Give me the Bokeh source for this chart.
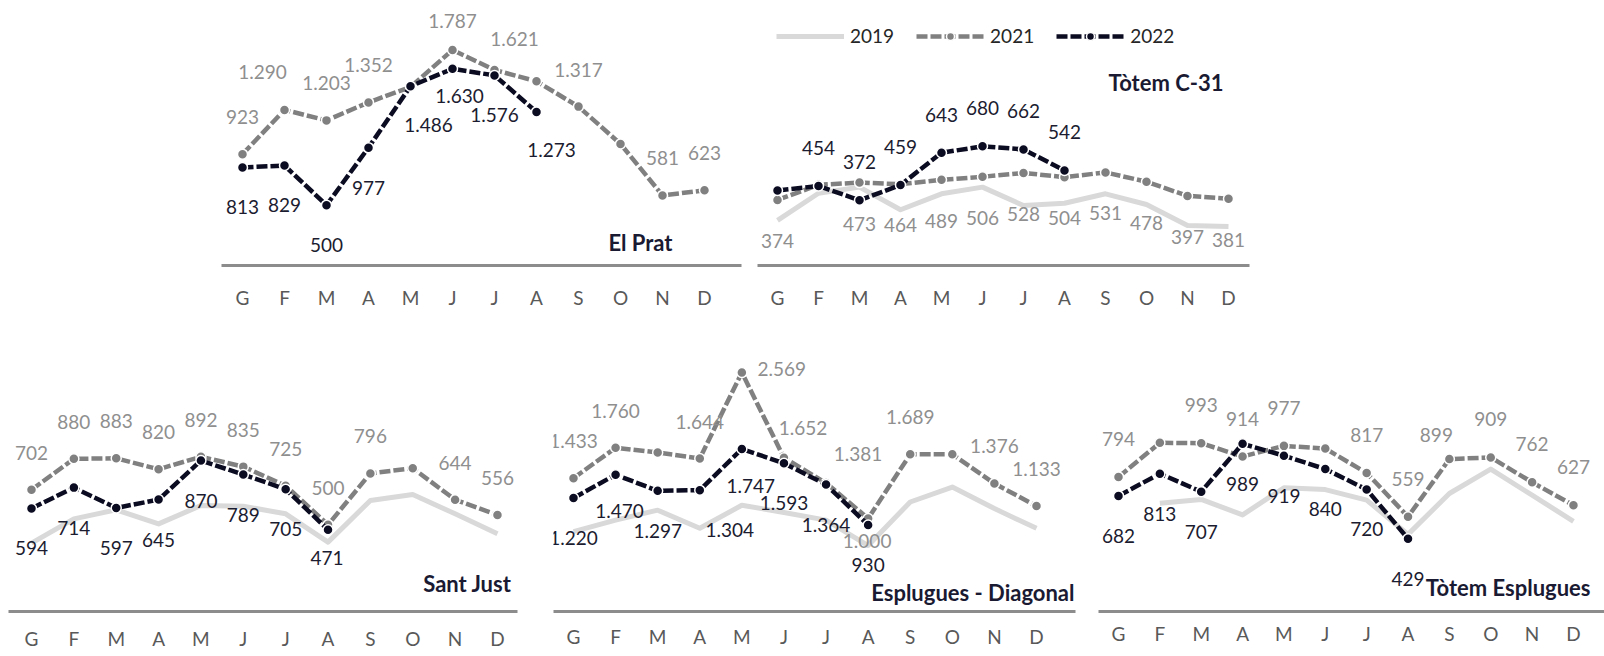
import math
from bokeh.plotting import figure
from bokeh.models import (Range1d, FixedTicker, ColumnDataSource, LabelSet, Label,
                          Legend, LegendItem, Spacer)
from bokeh.layouts import row, column
from bokeh.embed import file_html
from bokeh.resources import INLINE
from bokeh.core.properties import value

nan = float("nan")

# ---------------- data ----------------
months = ["G", "F", "M", "A", "M", "J", "J", "A", "S", "O", "N", "D"]
years = ["2019", "2021", "2022"]

# El Prat
elprat_2021 = [923, 1290, 1203, 1352, 1480, 1787, 1621, 1527, 1317, 1008, 581, 623]
elprat_2021_show = [1, 1, 1, 1, 0, 1, 1, 0, 1, 0, 1, 1]
elprat_2022 = [813, 829, 500, 977, 1486, 1630, 1576, 1273]
elprat_2022_show = [1, 1, 1, 1, 1, 1, 1, 1]

# Tòtem C-31
c31_2019 = [257, 412, 447, 318, 409, 447, 342, 355, 409, 348, 228, 222]
c31_2021 = [374, 460, 473, 464, 489, 506, 528, 504, 531, 478, 397, 381]
c31_2021_show = [1, 0, 1, 1, 1, 1, 1, 1, 1, 1, 1, 1]
c31_2022 = [428, 454, 372, 459, 643, 680, 662, 542]
c31_2022_show = [0, 1, 1, 1, 1, 1, 1, 1]

# Sant Just
sj_2019 = [394, 534, 586, 505, 611, 607, 563, 400, 640, 674, 563, 448]
sj_2021 = [702, 880, 883, 820, 892, 835, 725, 500, 796, 826, 644, 556]
sj_2021_show = [1, 1, 1, 1, 1, 1, 1, 1, 1, 0, 1, 1]
sj_2022 = [594, 714, 597, 645, 870, 789, 705, 471]
sj_2022_show = [1, 1, 1, 1, 1, 1, 1, 1]

# Esplugues - Diagonal
diag_2019 = [858, 982, 1089, 894, 1142, 1064, 982, 709, 1177, 1337, 1106, 894]
diag_2021 = [1433, 1760, 1709, 1644, 2569, 1652, 1381, 1000, 1689, 1690, 1376, 1133]
diag_2021_show = [1, 1, 0, 1, 1, 1, 1, 1, 1, 0, 1, 1]
diag_2022 = [1220, 1470, 1297, 1304, 1747, 1593, 1364, 930]
diag_2022_show = [1, 1, 1, 1, 1, 1, 1, 1]

# Tòtem Esplugues
te_2019 = [nan, 638, 661, 570, 730, 719, 657, 455, 696, 840, 686, 532]
te_2021 = [794, 995, 993, 914, 977, 961, 817, 559, 899, 909, 762, 627]
te_2021_show = [1, 0, 1, 1, 1, 0, 1, 1, 1, 1, 1, 1]
te_2022 = [682, 813, 707, 989, 919, 840, 720, 429]
te_2022_show = [1, 1, 1, 1, 1, 1, 1, 1]

# ---------------- styles ----------------
FONT = "Lato"
C19 = "#d9d9d9"
C21 = "#808080"
C22 = "#0b0b22"
T21 = "#8f8f8f"
T22 = "#1c1c30"
TITLE_C = "#1a1a33"
DASH = "11 3"


def fmt(v):
    return f"{int(v):,}".replace(",", ".")


def offsets(n, default, overrides):
    dx = [default[0]] * n
    dy = [default[1]] * n
    for i, (a, b) in overrides.items():
        dx[i] = a
        dy[i] = b
    return dx, [-d for d in dy]


def make_panel(fig_left, fig_top, fig_w, fig_h, frame_left, frame_right, axis_y,
               g_px, spacing, scale, standoff, title, title_right, title_y,
               v19, v21, show21, off21, v22, show22, off22, legend_pos=None):
    mbl = frame_left - fig_left
    mbr = fig_left + fig_w - frame_right
    mbb = fig_top + fig_h - axis_y
    frame_w = frame_right - frame_left
    frame_h = axis_y - fig_top
    x0 = -(g_px - frame_left) / spacing
    x1 = x0 + frame_w / spacing
    y1 = frame_h / scale
    p = figure(width=fig_w, height=fig_h, x_range=Range1d(x0, x1), y_range=Range1d(0, y1),
               min_border_left=mbl, min_border_right=mbr, min_border_top=0,
               min_border_bottom=mbb, toolbar_location=None, output_backend="svg",
               y_axis_location=None, outline_line_color=None)
    p.title.visible = False
    p.xgrid.visible = False
    p.ygrid.visible = False
    p.background_fill_color = "white"
    p.border_fill_color = "white"
    ax = p.xaxis[0]
    ax.ticker = FixedTicker(ticks=list(range(12)))
    ax.major_label_overrides = {i: m for i, m in enumerate(months)}
    ax.axis_line_color = "#8c8c8c"
    ax.axis_line_width = 3
    ax.major_tick_line_color = None
    ax.minor_tick_line_color = None
    ax.major_tick_out = 0
    ax.major_tick_in = 0
    ax.major_label_standoff = standoff
    ax.major_label_text_font = FONT
    ax.major_label_text_font_size = "19px"
    ax.major_label_text_color = "#595959"
    ax.axis_label = None
    ax.axis_label_standoff = 0

    items = []
    if v19 is not None:
        s19 = ColumnDataSource(dict(x=list(range(len(v19))), y=v19))
        r19 = p.line("x", "y", source=s19, line_color=C19, line_width=5, line_join="round")
        items.append(LegendItem(label="2019", renderers=[r19]))
    dx21, dy21 = offsets(len(v21), *off21)
    s21 = ColumnDataSource(dict(x=list(range(len(v21))), y=v21,
                                label=[fmt(v) if s else "" for v, s in zip(v21, show21)],
                                dx=dx21, dy=dy21))
    l21 = p.line("x", "y", source=s21, line_color=C21, line_width=4.5, line_dash=DASH,
                 line_join="round")
    m21 = p.scatter("x", "y", source=s21, size=10, fill_color=C21, line_color="white",
                    line_width=1.5)
    items.append(LegendItem(label="2021", renderers=[l21, m21]))
    dx22, dy22 = offsets(len(v22), *off22)
    s22 = ColumnDataSource(dict(x=list(range(len(v22))), y=v22,
                                label=[fmt(v) if s else "" for v, s in zip(v22, show22)],
                                dx=dx22, dy=dy22))
    l22 = p.line("x", "y", source=s22, line_color=C22, line_width=4.5, line_dash=DASH,
                 line_join="round")
    m22 = p.scatter("x", "y", source=s22, size=10, fill_color=C22, line_color="white",
                    line_width=1.5)
    items.append(LegendItem(label="2022", renderers=[l22, m22]))

    for src, col in ((s21, T21), (s22, T22)):
        p.add_layout(LabelSet(x="x", y="y", text="label", source=src,
                              x_offset="dx", y_offset="dy",
                              text_font=value(FONT), text_font_size="19px",
                              text_color=col, text_align="center",
                              text_baseline="middle"))

    p.add_layout(Label(x=(title_right - g_px) / spacing, y=(axis_y - title_y) / scale,
                       text=title, text_font=FONT, text_font_size="22px",
                       text_font_style="bold", text_color=TITLE_C,
                       text_align="right", text_baseline="middle"))

    if legend_pos is not None:
        lg = Legend(items=items, orientation="horizontal", location=legend_pos,
                    padding=0, margin=0, spacing=22, glyph_width=68, glyph_height=20,
                    label_height=20, label_standoff=6, label_text_font=FONT,
                    label_text_font_size="19px", label_text_color="#262626",
                    border_line_color=None, background_fill_alpha=0)
        p.add_layout(lg)
    return p


# top row: y 0..318 ; bottom row: y 318..656
p_elprat = make_panel(200, 0, 549, 318, 221, 741, 268, 242, 42.0, 0.122, 20,
                      "El Prat", 672, 245,
                      None, elprat_2021, elprat_2021_show,
                      ((0, -37), {1: (-22, -38), 5: (0, -29), 6: (20, -31)}),
                      elprat_2022, elprat_2022_show,
                      ((0, 40), {4: (18, 39), 5: (7, 27), 7: (15, 38)}))

p_c31 = make_panel(749, 0, 551, 318, 757, 1249, 265, 777, 41.0, 0.1753, 20,
                   "Tòtem C-31", 1223, 82,
                   c31_2019, c31_2021, c31_2021_show,
                   ((0, 41), {}),
                   c31_2022, c31_2022_show,
                   ((0, -38), {}),
                   legend_pos=(19, 218))

p_sj = make_panel(0, 318, 535, 338, 8, 517, 611, 31, 42.36, 0.1735, 15,
                  "Sant Just", 511, 583,
                  sj_2019, sj_2021, sj_2021_show,
                  ((0, -37), {}),
                  sj_2022, sj_2022_show,
                  ((0, 40), {7: (-1, 28)}))

p_diag = make_panel(535, 318, 550, 338, 553, 1075, 614, 573, 42.09, 0.094, 13,
                    "Esplugues - Diagonal", 1074, 595,
                    diag_2019, diag_2021, diag_2021_show,
                    ((0, -37), {4: (40, -3), 5: (19, -30), 6: (32, -29), 7: (-1, 23)}),
                    diag_2022, diag_2022_show,
                    ((0, 40), {1: (4, 36), 3: (30, 40), 4: (9, 37)}))

p_te = make_panel(1085, 318, 519, 338, 1098, 1604, 617, 1118, 41.36, 0.173, 10,
                  "Tòtem Esplugues", 1590, 593,
                  te_2019, te_2021, te_2021_show,
                  ((0, -38), {8: (-13, -24)}),
                  te_2022, te_2022_show,
                  ((0, 40), {}))

layout = column(row(Spacer(width=200, height=318), p_elprat, p_c31),
                row(p_sj, p_diag, p_te))

open("out.html", "w").write(file_html(layout, INLINE))
